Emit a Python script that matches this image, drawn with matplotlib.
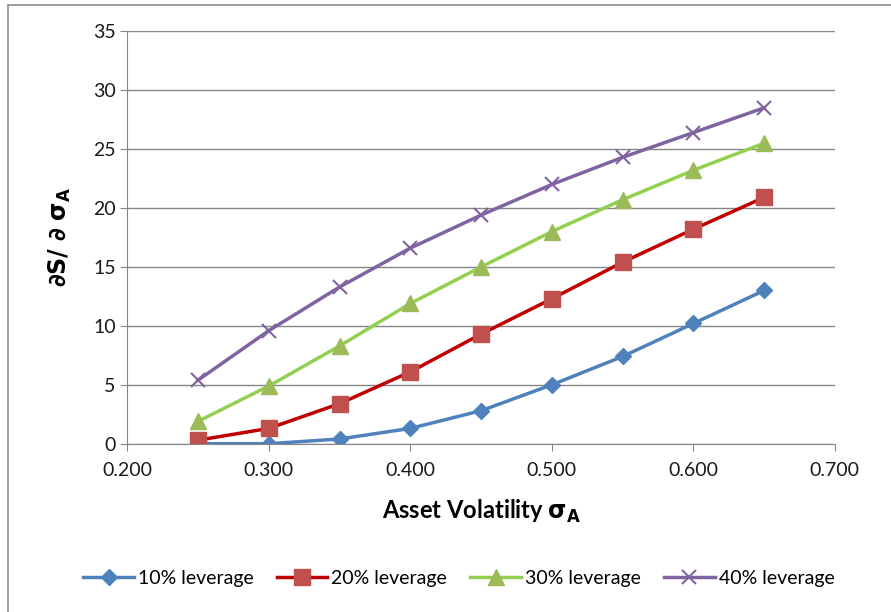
import matplotlib
matplotlib.use("Agg")
import matplotlib.pyplot as plt
from matplotlib.patches import Rectangle

plt.rcParams['font.family'] = ['Lato', 'DejaVu Sans']
plt.rcParams['mathtext.fontset'] = 'dejavusans'

volatility = [0.25, 0.30, 0.35, 0.40, 0.45, 0.50, 0.55, 0.60, 0.65]
lev10 = [0.0, 0.0, 0.4, 1.3, 2.8, 5.0, 7.4, 10.2, 13.0]
lev20 = [0.3, 1.3, 3.4, 6.1, 9.3, 12.3, 15.4, 18.2, 20.9]
lev30 = [1.9, 4.9, 8.3, 11.9, 15.0, 18.0, 20.7, 23.2, 25.5]
lev40 = [5.4, 9.6, 13.3, 16.6, 19.4, 22.0, 24.3, 26.4, 28.5]
labels = ['10% leverage', '20% leverage', '30% leverage', '40% leverage']

fig = plt.figure(figsize=(8.91, 6.12), dpi=100)
ax = fig.add_axes([0.143, 0.275, 0.794, 0.674])

# chart area border
fig.patches.append(Rectangle((0.009, -0.01), 1.2, 1.002, transform=fig.transFigure,
                             fill=False, edgecolor='#8c8c8c', linewidth=1.2))

ax.plot(volatility, lev10, color='#4F81BD', lw=2.5, marker='D', ms=8,
        mfc='#4F81BD', mec='#4F81BD', label=labels[0])
ax.plot(volatility, lev20, color='#C00000', lw=2.5, marker='s', ms=11,
        mfc='#C0504D', mec='#C0504D', label=labels[1])
ax.plot(volatility, lev30, color='#92D050', lw=2.5, marker='^', ms=11,
        mfc='#9BBB59', mec='#9BBB59', label=labels[2])
ax.plot(volatility, lev40, color='#8064A2', lw=2.5, marker='x', ms=10, mew=1.5,
        mfc='#8064A2', mec='#8064A2', label=labels[3])

ax.set_xlim(0.2, 0.7)
ax.set_ylim(0, 35)
ax.set_xticks([0.2, 0.3, 0.4, 0.5, 0.6, 0.7])
ax.set_xticklabels(['%.3f' % v for v in [0.2, 0.3, 0.4, 0.5, 0.6, 0.7]])
ax.set_yticks(range(0, 36, 5))
ax.grid(axis='y', color='#868686', lw=1)
ax.set_axisbelow(True)
for s in ['top', 'right']:
    ax.spines[s].set_visible(False)
for s in ['left', 'bottom']:
    ax.spines[s].set_color('#868686')
ax.tick_params(axis='both', colors='#868686', labelcolor='#1a1a1a', labelsize=14,
               length=5, direction='out')
ax.tick_params(axis='x', pad=8)

ax.set_xlabel(r'Asset Volatility $\mathbf{\sigma_A}$', fontsize=17, fontweight='bold', labelpad=14)
ax.set_ylabel(r'$\mathbf{\partial S/\ \partial\ \sigma_A}$', fontsize=17, labelpad=14)

fig.legend(loc='center', bbox_to_anchor=(0.515, 0.055), ncol=4, frameon=False,
           fontsize=14, handlelength=2.6, columnspacing=1.2, handletextpad=0.2)

fig.savefig('out.png', dpi=100)
